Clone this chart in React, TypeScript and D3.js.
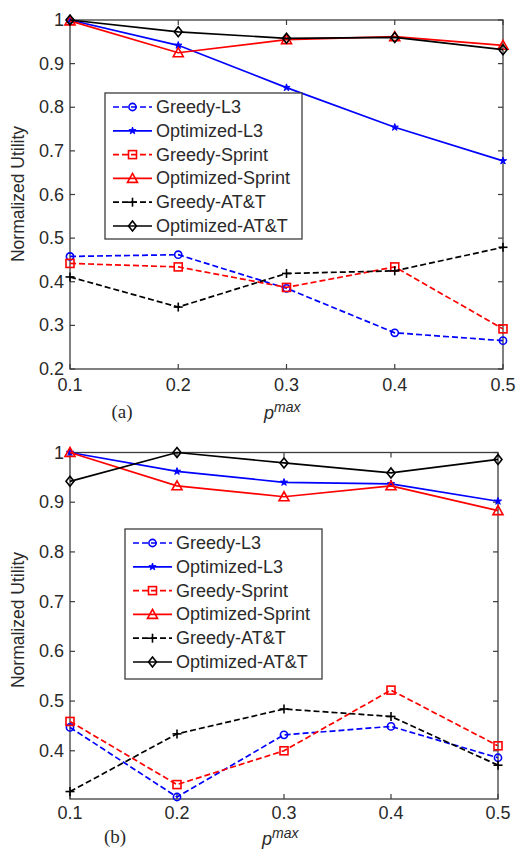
import React from "react";
import * as d3 from "d3";

const xValues = [0.1, 0.2, 0.3, 0.4, 0.5];
const xTickLabels = ["0.1", "0.2", "0.3", "0.4", "0.5"];
const seriesNames = ["Greedy-L3", "Optimized-L3", "Greedy-Sprint", "Optimized-Sprint", "Greedy-AT&T", "Optimized-AT&T"];
const seriesColors = ["#0000ff", "#0000ff", "#ff0000", "#ff0000", "#000000", "#000000"];
const seriesDashed = [true, false, true, false, true, false];
const seriesMarkers = ["circle", "star", "square", "triangle", "plus", "diamond"];

// Panel (a)
const aGreedyL3 = [0.458, 0.462, 0.385, 0.283, 0.265];
const aOptimizedL3 = [1.0, 0.942, 0.845, 0.754, 0.677];
const aGreedySprint = [0.442, 0.434, 0.387, 0.434, 0.292];
const aOptimizedSprint = [0.998, 0.925, 0.955, 0.962, 0.942];
const aGreedyATT = [0.411, 0.342, 0.419, 0.425, 0.479];
const aOptimizedATT = [1.0, 0.973, 0.958, 0.96, 0.932];
const aYTicks = [0.2, 0.3, 0.4, 0.5, 0.6, 0.7, 0.8, 0.9, 1];
const aYTickLabels = ["0.2", "0.3", "0.4", "0.5", "0.6", "0.7", "0.8", "0.9", "1"];

// Panel (b)
const bGreedyL3 = [0.447, 0.307, 0.432, 0.449, 0.386];
const bOptimizedL3 = [1.0, 0.962, 0.94, 0.937, 0.902];
const bGreedySprint = [0.459, 0.332, 0.4, 0.522, 0.41];
const bOptimizedSprint = [1.0, 0.933, 0.911, 0.933, 0.883];
const bGreedyATT = [0.318, 0.434, 0.484, 0.469, 0.371];
const bOptimizedATT = [0.942, 1.0, 0.979, 0.959, 0.986];
const bYTicks = [0.4, 0.5, 0.6, 0.7, 0.8, 0.9, 1];
const bYTickLabels = ["0.4", "0.5", "0.6", "0.7", "0.8", "0.9", "1"];

const AXIS_COLOR = "#3c3c3c";
const TEXT_COLOR = "#2a2a2a";
const SANS = "Liberation Sans, Arial, sans-serif";

function Marker({ kind, x, y, color }: { kind: string; x: number; y: number; color: string }) {
  const sw = 1.6;
  if (kind === "circle") return <circle cx={x} cy={y} r={3.6} fill="none" stroke={color} strokeWidth={sw} />;
  if (kind === "square") return <rect x={x - 4} y={y - 4} width={8} height={8} fill="none" stroke={color} strokeWidth={sw} />;
  if (kind === "triangle") {
    const p = d3.path();
    p.moveTo(x, y - 5);
    p.lineTo(x + 5, y + 4);
    p.lineTo(x - 5, y + 4);
    p.closePath();
    return <path d={p.toString()} fill="none" stroke={color} strokeWidth={sw} />;
  }
  if (kind === "diamond") {
    const p = d3.path();
    p.moveTo(x, y - 5);
    p.lineTo(x + 4, y);
    p.lineTo(x, y + 5);
    p.lineTo(x - 4, y);
    p.closePath();
    return <path d={p.toString()} fill="none" stroke={color} strokeWidth={sw} />;
  }
  if (kind === "plus") {
    return (
      <g stroke={color} strokeWidth={sw}>
        <line x1={x - 4.5} x2={x + 4.5} y1={y} y2={y} />
        <line x1={x} x2={x} y1={y - 4.5} y2={y + 4.5} />
      </g>
    );
  }
  const s = d3.symbol().type(d3.symbolStar).size(16)();
  return <path d={s || ""} transform={`translate(${x},${y})`} fill={color} stroke={color} strokeWidth={1} />;
}

type PanelProps = {
  data: number[][];
  left: number;
  right: number;
  top: number;
  bottom: number;
  yDomain: [number, number];
  yTicks: number[];
  yTickLabels: string[];
  legendX: number;
  legendY: number;
  legendW: number;
  legendH: number;
  label: string;
  labelX: number;
  labelY: number;
  pmaxX: number;
  pmaxY: number;
  xTickY: number;
  yLabelCenter: number;
};

function Panel(props: PanelProps) {
  const { data, left, right, top, bottom, yDomain, yTicks, yTickLabels } = props;
  const x = d3.scaleLinear().domain([0.1, 0.5]).range([left, right]);
  const y = d3.scaleLinear().domain(yDomain).range([bottom, top]);
  const line = d3
    .line<number>()
    .x((_, i) => x(xValues[i]))
    .y((d) => y(d));
  const tickLen = 5;
  const legendRowH = 23.8;
  return (
    <g>
      <rect x={left} y={top} width={right - left} height={bottom - top} fill="white" stroke={AXIS_COLOR} strokeWidth={1.3} />
      {xValues.map((v, i) => (
        <g key={"xt" + i}>
          <line x1={x(v)} x2={x(v)} y1={bottom} y2={bottom - tickLen} stroke={AXIS_COLOR} strokeWidth={1.2} />
          <line x1={x(v)} x2={x(v)} y1={top} y2={top + tickLen} stroke={AXIS_COLOR} strokeWidth={1.2} />
          <text x={x(v)} y={props.xTickY} textAnchor="middle" dominantBaseline="central" fontFamily={SANS} fontSize={18} fill={TEXT_COLOR}>
            {xTickLabels[i]}
          </text>
        </g>
      ))}
      {yTicks.map((v, i) => (
        <g key={"yt" + i}>
          <line x1={left} x2={left + tickLen} y1={y(v)} y2={y(v)} stroke={AXIS_COLOR} strokeWidth={1.2} />
          <line x1={right} x2={right - tickLen} y1={y(v)} y2={y(v)} stroke={AXIS_COLOR} strokeWidth={1.2} />
          <text x={left - 6} y={y(v)} textAnchor="end" dominantBaseline="central" fontFamily={SANS} fontSize={18} fill={TEXT_COLOR}>
            {yTickLabels[i]}
          </text>
        </g>
      ))}
      <text
        transform={`translate(${18},${props.yLabelCenter}) rotate(-90)`}
        textAnchor="middle"
        dominantBaseline="central"
        fontFamily={SANS}
        fontSize={17.5}
        fill={TEXT_COLOR}
      >
        Normalized Utility
      </text>
      {data.map((vals, si) => (
        <g key={"s" + si}>
          <path
            d={line(vals) || ""}
            fill="none"
            stroke={seriesColors[si]}
            strokeWidth={1.7}
            strokeDasharray={seriesDashed[si] ? "6,3" : undefined}
          />
          {vals.map((v, i) => (
            <Marker key={i} kind={seriesMarkers[si]} x={x(xValues[i])} y={y(v)} color={seriesColors[si]} />
          ))}
        </g>
      ))}
      <rect x={props.legendX} y={props.legendY} width={props.legendW} height={props.legendH} fill="white" stroke={AXIS_COLOR} strokeWidth={1.3} />
      {seriesNames.map((name, si) => {
        const ry = props.legendY + 14 + si * legendRowH;
        const lx1 = props.legendX + 8;
        const lx2 = props.legendX + 47;
        return (
          <g key={"lg" + si}>
            <line x1={lx1} x2={lx2} y1={ry} y2={ry} stroke={seriesColors[si]} strokeWidth={1.7} strokeDasharray={seriesDashed[si] ? "6,3" : undefined} />
            <Marker kind={seriesMarkers[si]} x={(lx1 + lx2) / 2} y={ry} color={seriesColors[si]} />
            <text x={props.legendX + 51} y={ry} dominantBaseline="central" fontFamily={SANS} fontSize={18} fill={TEXT_COLOR}>
              {name}
            </text>
          </g>
        );
      })}
      <text x={props.labelX} y={props.labelY} textAnchor="middle" dominantBaseline="central" fontFamily="Liberation Serif, Times New Roman, serif" fontSize={19} fill={TEXT_COLOR}>
        {props.label}
      </text>
      <text x={props.pmaxX} y={props.pmaxY} fontFamily={SANS} fontStyle="italic" fill={TEXT_COLOR}>
        <tspan fontSize={18}>p</tspan>
        <tspan fontSize={14} dy={-7}>max</tspan>
      </text>
    </g>
  );
}

export default function App() {
  const aData = [aGreedyL3, aOptimizedL3, aGreedySprint, aOptimizedSprint, aGreedyATT, aOptimizedATT];
  const bData = [bGreedyL3, bOptimizedL3, bGreedySprint, bOptimizedSprint, bGreedyATT, bOptimizedATT];
  return (
    <svg width={525} height={849} style={{ position: "absolute", left: 0, top: 0, background: "white" }}>
      <rect x={0} y={0} width={525} height={849} fill="white" />
      <Panel
        data={aData}
        left={70}
        right={503}
        top={20}
        bottom={369}
        yDomain={[0.2, 1]}
        yTicks={aYTicks}
        yTickLabels={aYTickLabels}
        legendX={105}
        legendY={93}
        legendW={197}
        legendH={146}
        label="(a)"
        labelX={122}
        labelY={411}
        pmaxX={264}
        pmaxY={419}
        xTickY={385}
        yLabelCenter={194}
      />
      <Panel
        data={bData}
        left={70}
        right={498}
        top={452.5}
        bottom={799}
        yDomain={[0.303, 1]}
        yTicks={bYTicks}
        yTickLabels={bYTickLabels}
        legendX={125}
        legendY={529}
        legendW={197}
        legendH={150}
        label="(b)"
        labelX={115}
        labelY={836}
        pmaxX={262}
        pmaxY={845}
        xTickY={813}
        yLabelCenter={620}
      />
    </svg>
  );
}
